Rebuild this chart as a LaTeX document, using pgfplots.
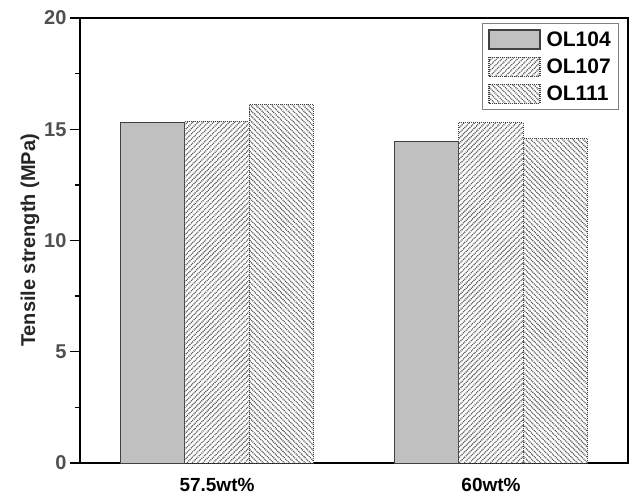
\documentclass[border=0pt]{standalone}
\usepackage{pgfplots}
\pgfplotsset{compat=1.18}
\usepackage{fontspec}
\setmainfont{Liberation Sans}
\usetikzlibrary{patterns.meta}
\definecolor{barfill}{HTML}{C0C0C0}
\definecolor{edge}{HTML}{404040}
\definecolor{hatch}{HTML}{5A5A5A}
\definecolor{ticklab}{HTML}{505050}
\begin{document}
\begin{tikzpicture}
\useasboundingbox (-80bp,-35bp) rectangle (549bp,463bp);
\begin{axis}[
  at={(0,0)}, anchor=south west,
  scale only axis,
  width=548bp, height=445bp,
  xmin=-0.5, xmax=1.5,
  ymin=0, ymax=20,
  ybar=0pt,
  bar width=0.234,
  xtick={0,1},
  xticklabels={57.5wt\%,60wt\%},
  x tick style={draw=none},
  ytick={0,5,10,15,20},
  minor y tick num=1,
  tick align=outside,
  ytick pos=left,
  major tick length=10bp,
  minor tick length=5bp,
  y tick style={line width=1.3bp, black},
  axis line style={line width=1.5bp},
  x tick label style={font=\fontsize{19bp}{22bp}\selectfont\bfseries, yshift=-2bp},
  y tick label style={font=\fontsize{20bp}{23bp}\selectfont\bfseries, text=ticklab},
  /pgf/number format/assume math mode=true,
  ylabel={Tensile strength (MPa)},
  ylabel style={font=\fontsize{20bp}{24bp}\selectfont\bfseries, text=black!85, yshift=-2bp},
  legend cell align=left,
  legend style={at={(rel axis cs:0.984,0.989)}, anchor=north east,
    draw=gray, line width=1bp, font=\fontsize{21bp}{25bp}\selectfont\bfseries,
    inner xsep=6bp, inner ysep=6bp, row sep=7bp,
    /tikz/every odd column/.append style={column sep=4bp}},
  legend image code/.code={\draw[#1, line width=1.2bp] (0bp,-9.5bp) rectangle (51bp,9.5bp);},
]
\addplot[fill=barfill, draw=edge, line width=1bp] coordinates {(0,15.31) (1,14.47)};
\addplot[fill=white, draw=edge, line width=1bp, densely dotted,
  postaction={pattern={Lines[angle=45, distance=3.7bp, line width=1.3bp]}, pattern color=hatch}]
  coordinates {(0,15.37) (1,15.29)};
\addplot[fill=white, draw=edge, line width=1bp, densely dotted,
  postaction={pattern={Lines[angle=-45, distance=3.7bp, line width=1.3bp]}, pattern color=hatch}]
  coordinates {(0,16.12) (1,14.59)};
\legend{OL104,OL107,OL111}
\end{axis}
\end{tikzpicture}
\end{document}
